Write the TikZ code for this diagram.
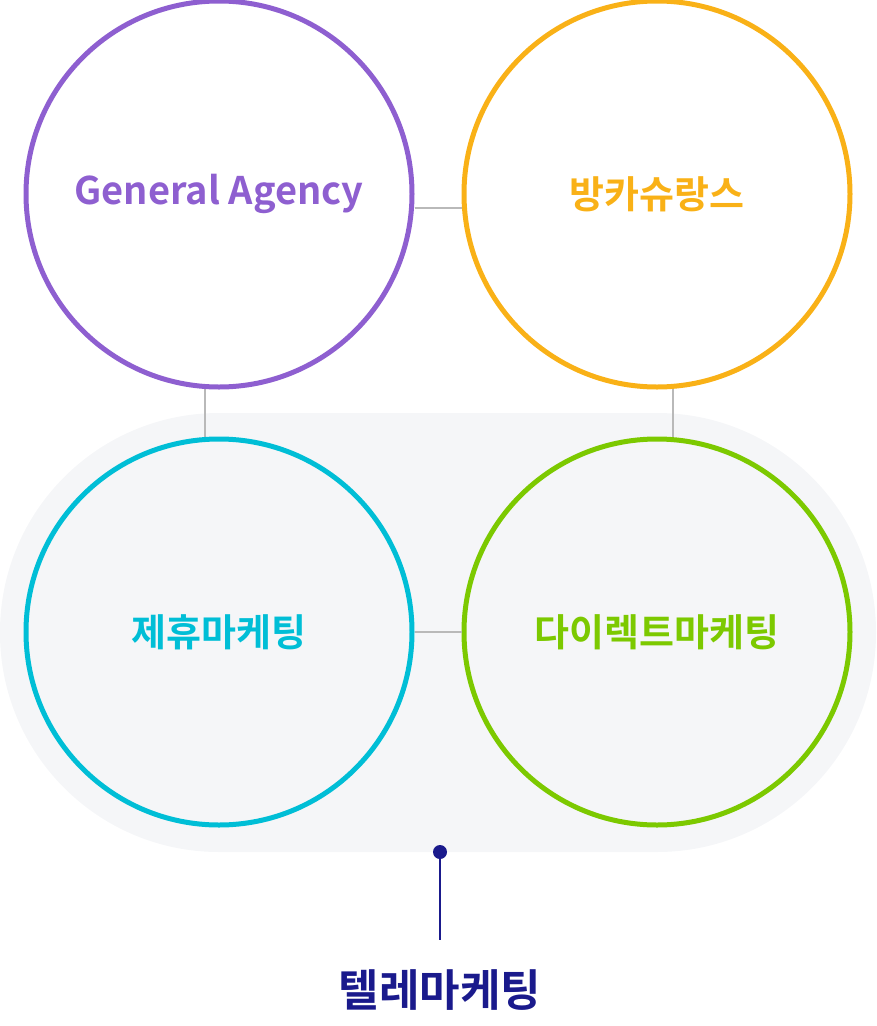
\documentclass[tikz,border=0pt]{standalone}
\usepackage{fontspec}
\setmainfont{Noto Sans CJK KR}[BoldFont={* Bold}]
\begin{document}
\begin{tikzpicture}[x=1pt,y=-1pt,
  ring/.style={circle,minimum size=386pt,line width=5pt,inner sep=0pt,font=\bfseries\fontsize{38}{44}\selectfont},
  link/.style={draw=gray!55,line width=2pt}]
\definecolor{cpur}{HTML}{8E5FD0}
\definecolor{corg}{HTML}{F9B117}
\definecolor{ccyan}{HTML}{00BED6}
\definecolor{cgrn}{HTML}{7CC900}
\definecolor{cnavy}{HTML}{1A1A8C}
\definecolor{cbg}{HTML}{F5F6F8}
\useasboundingbox (0,0) rectangle (876,1026);
\fill[cbg,rounded corners=219pt] (0,413) rectangle (876,852);
\coordinate (tl) at (205,388); \coordinate (bl) at (205,440);
\coordinate (tr) at (673,388); \coordinate (br) at (673,440);
\draw[link] (tl) -- (bl); \draw[link] (tr) -- (br);
\node[ring,draw=cpur,text=cpur] (ga) at (219,194) {General Agency};
\node[ring,draw=corg,text=corg] (bk) at (657,194) {방카슈랑스};
\node[ring,draw=ccyan,text=ccyan] (jm) at (219,632) {제휴마케팅};
\node[ring,draw=cgrn,text=cgrn] (dm) at (657,632) {다이렉트마케팅};
\draw[link] (ga.east |- 0,208) -- (bk.west |- 0,208);
\draw[link] (jm) -- (dm);
\node[circle,fill=cnavy,minimum size=14pt,inner sep=0pt] (dot) at (440,852) {};
\coordinate (lend) at (440,940);
\draw[cnavy,line width=2.5pt] (dot) -- (lend);
\node[text=cnavy,font=\bfseries\fontsize{44}{50}\selectfont] (tm) at (440,990) {텔레마케팅};
\end{tikzpicture}
\end{document}
